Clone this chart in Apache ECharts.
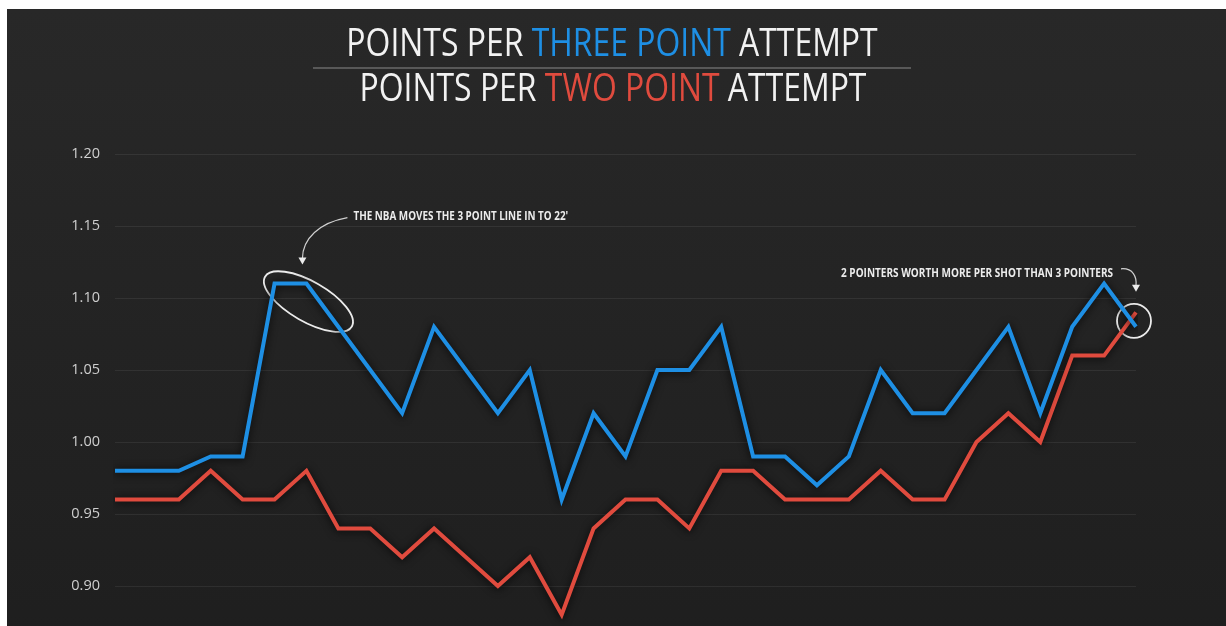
<!DOCTYPE html>
<html>
<head>
<meta charset="utf-8">
<script src="https://cdn.jsdelivr.net/npm/echarts@6/dist/echarts.min.js"></script>
<style>
  html, body { margin: 0; padding: 0; background: #ffffff; width: 1226px; height: 626px; overflow: hidden; }
  #chart { position: absolute; left: 7px; top: 9px; width: 1219px; height: 670px; }
</style>
</head>
<body>
<div id="chart"></div>
<script>
// Seasons (x categories, labels not shown in the reference)
const seasons = ['1990','1991','1992','1993','1994','1995','1996','1997','1998','1999','2000',
  '2001','2002','2003','2004','2005','2006','2007','2008','2009','2010','2011','2012','2013',
  '2014','2015','2016','2017','2018','2019','2020','2021','2022'];
// Points per three point attempt
const threePt = [0.98,0.98,0.98,0.99,0.99,1.11,1.11,1.08,1.05,1.02,1.08,1.05,1.02,1.05,0.96,1.02,
  0.99,1.05,1.05,1.08,0.99,0.99,0.97,0.99,1.05,1.02,1.02,1.05,1.08,1.02,1.08,1.11,1.08];
// Points per two point attempt
const twoPt = [0.96,0.96,0.96,0.98,0.96,0.96,0.98,0.94,0.94,0.92,0.94,0.92,0.90,0.92,0.88,0.94,
  0.96,0.96,0.94,0.98,0.98,0.96,0.96,0.96,0.98,0.96,0.96,1.00,1.02,1.00,1.06,1.06,1.09];
const yTicks = { min: 0.85, max: 1.20, interval: 0.05 };
const annot1 = "THE NBA MOVES THE 3 POINT LINE IN TO 22'";
const annot2 = "2 POINTERS WORTH MORE PER SHOT THAN 3 POINTERS";

const BLUE = '#1e8fe4';
const RED = '#e04b3e';
const FONT = "'Open Sans',sans-serif";

const chart = echarts.init(document.getElementById('chart'), null, { renderer: 'canvas' });

const lineShadow = { shadowColor: 'rgba(0,0,0,0.85)', shadowBlur: 8, shadowOffsetY: 1 };

chart.setOption({
  backgroundColor: {
    type: 'linear', x: 0, y: 0, x2: 0, y2: 1,
    colorStops: [{ offset: 0, color: '#282828' }, { offset: 1, color: '#1e1e1e' }]
  },
  animation: false,
  grid: { left: 108, right: 90, top: 145, height: 504, containLabel: false },
  xAxis: {
    type: 'category', data: seasons, boundaryGap: false,
    axisLine: { show: false }, axisTick: { show: false }, axisLabel: { show: false },
    splitLine: { show: false }
  },
  yAxis: {
    type: 'value', min: yTicks.min, max: yTicks.max, interval: yTicks.interval,
    axisLine: { show: false }, axisTick: { show: false },
    axisLabel: {
      color: '#cfcfcf', fontSize: 14.5, margin: 15, fontFamily: FONT,
      formatter: v => v.toFixed(2)
    },
    splitLine: { lineStyle: { color: 'rgba(255,255,255,0.07)', width: 1 } }
  },
  series: [
    {
      name: 'Points per two point attempt', type: 'line', data: twoPt, symbol: 'none',
      lineStyle: Object.assign({ color: RED, width: 4, join: 'miter' }, lineShadow)
    },
    {
      name: 'Points per three point attempt', type: 'line', data: threePt, symbol: 'none',
      lineStyle: Object.assign({ color: BLUE, width: 4, join: 'miter' }, lineShadow)
    }
  ]
});

function placeAnnotations() {
  const a = chart.convertToPixel({ xAxisIndex: 0, yAxisIndex: 0 }, [6, threePt[6]]);
  const b = chart.convertToPixel({ xAxisIndex: 0, yAxisIndex: 0 }, [threePt.length - 1, threePt[threePt.length - 1]]);
  const W = '#ececec';
  const cx = 605;
  chart.setOption({
    graphic: [
      // Title
      {
        type: 'text', x: cx, y: 36, scaleX: 0.84,
        style: {
          x: 0, y: 0, align: 'center', verticalAlign: 'middle',
          text: '{w|POINTS PER }{b|THREE POINT}{w| ATTEMPT}',
          rich: {
            w: { fill: '#f2f2f2', fontSize: 38, fontFamily: FONT },
            b: { fill: BLUE, fontSize: 38, fontFamily: FONT }
          }
        }
      },
      {
        type: 'line', shape: { x1: cx - 299, y1: 59, x2: cx + 299, y2: 59 },
        style: { stroke: '#8a8a8a', lineWidth: 1.2 }
      },
      {
        type: 'text', x: cx + 1, y: 81, scaleX: 0.84,
        style: {
          x: 0, y: 0, align: 'center', verticalAlign: 'middle',
          text: '{w|POINTS PER }{r|TWO POINT}{w| ATTEMPT}',
          rich: {
            w: { fill: '#f2f2f2', fontSize: 38, fontFamily: FONT },
            r: { fill: RED, fontSize: 38, fontFamily: FONT }
          }
        }
      },
      // Annotation 1
      {
        type: 'ellipse', shape: { cx: 0, cy: 0, rx: 50, ry: 20 },
        x: a[0] + 2, y: a[1] + 18, rotation: -0.52,
        style: { fill: 'none', stroke: W, lineWidth: 1.8 }
      },
      {
        type: 'text', x: a[0] + 47, y: a[1] - 67, scaleX: 0.76,
        style: { x: 0, y: 0, text: annot1, fill: W, fontSize: 13, fontWeight: 'bold', fontFamily: FONT, verticalAlign: 'middle', align: 'left' }
      },
      {
        type: 'bezierCurve',
        shape: { x1: a[0] + 41, y1: a[1] - 66, cpx1: a[0] + 13, cpy1: a[1] - 61, cpx2: a[0] - 4, cpy2: a[1] - 45, x2: a[0] - 4, y2: a[1] - 25 },
        style: { stroke: '#d0d0d0', lineWidth: 1.2, fill: 'none' }
      },
      {
        type: 'polygon',
        shape: { points: [[a[0] - 8, a[1] - 26], [a[0], a[1] - 26], [a[0] - 4, a[1] - 19]] },
        style: { fill: W }
      },
      // Annotation 2
      {
        type: 'circle', shape: { cx: b[0] - 2, cy: b[1] - 6, r: 17 },
        style: { fill: 'none', stroke: W, lineWidth: 1.8 }
      },
      {
        type: 'text', x: b[0] - 23, y: b[1] - 54, scaleX: 0.77,
        style: { x: 0, y: 0, text: annot2, fill: W, fontSize: 13, fontWeight: 'bold', fontFamily: FONT, verticalAlign: 'middle', align: 'right' }
      },
      {
        type: 'bezierCurve',
        shape: { x1: b[0] - 15, y1: b[1] - 58, cpx1: b[0] - 3, cpy1: b[1] - 59, cpx2: b[0] + 1, cpy2: b[1] - 50, x2: b[0], y2: b[1] - 41 },
        style: { stroke: '#d0d0d0', lineWidth: 1.2, fill: 'none' }
      },
      {
        type: 'polygon',
        shape: { points: [[b[0] - 4, b[1] - 42], [b[0] + 4, b[1] - 42], [b[0], b[1] - 35]] },
        style: { fill: W }
      }
    ]
  });
}
placeAnnotations();
</script>
</body>
</html>
